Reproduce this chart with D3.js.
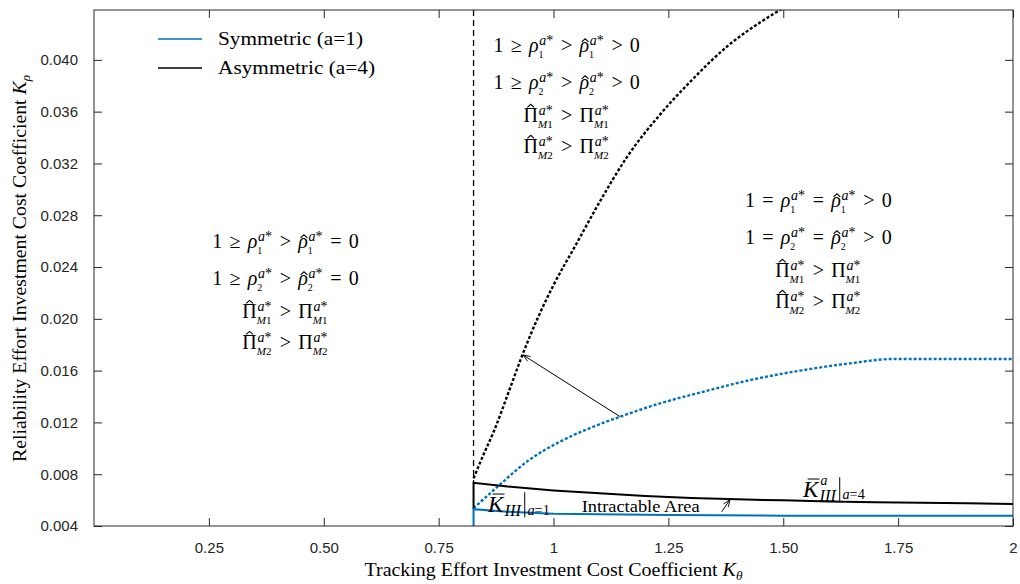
<!DOCTYPE html>
<html>
<head>
<meta charset="utf-8">
<style>
	body { margin: 0; background: white; }
	.tick text { font-family: "Liberation Sans", Arial, sans-serif; font-size: 15px; fill: #262626; }
	.tick line { stroke: #262626; }
	.tex { font-family: "Liberation Serif", "Times New Roman", serif; fill: #000; }
	.box { fill: none; stroke: #262626; stroke-width: 1; }
</style>
</head>
<body>
<svg width="1020" height="584"></svg>

<script src="https://cdnjs.cloudflare.com/ajax/libs/d3/7.8.5/d3.min.js"></script>
<script>
// values
const kThreshold = 0.826;

const xTicks = [0.25, 0.5, 0.75, 1, 1.25, 1.5, 1.75, 2];
const xTickLabels = ["0.25", "0.50", "0.75", "1", "1.25", "1.50", "1.75", "2"];
const yTicks = [0.004, 0.008, 0.012, 0.016, 0.020, 0.024, 0.028, 0.032, 0.036, 0.040];
const yTickLabels = ["0.004", "0.008", "0.012", "0.016", "0.020", "0.024", "0.028", "0.032", "0.036", "0.040"];

// a=4 boundary (black dotted)
const asymBoundK   = [0.826, 0.85, 0.87, 0.905, 0.93, 0.965, 1.0, 1.05, 1.1, 1.16, 1.23, 1.3, 1.38, 1.45, 1.5];
const asymBoundRho = [0.00768, 0.0097, 0.0113, 0.0146, 0.0170, 0.0200, 0.0226, 0.0258, 0.0290, 0.0325, 0.0357, 0.0384, 0.0411, 0.0429, 0.0440];

// a=1 boundary (blue dotted)
const symBoundK   = [0.826, 0.88, 0.942, 1.014, 1.087, 1.145, 1.232, 1.319, 1.428, 1.537, 1.645, 1.74, 1.75, 2.0];
const symBoundRho = [0.00537, 0.00709, 0.00897, 0.01051, 0.01167, 0.01244, 0.01347, 0.0143, 0.01527, 0.0160, 0.01656, 0.0169, 0.0169, 0.0169];

// K_III lower bounds (solid)
const asymFloorK   = [0.826, 0.826, 0.9, 1.0, 1.1, 1.2, 1.3, 1.4, 1.5, 1.6, 1.7, 1.8, 1.9, 2.0];
const asymFloorRho = [0.0053, 0.00734, 0.00705, 0.00675, 0.00652, 0.00632, 0.00617, 0.00606, 0.00598, 0.0059, 0.00583, 0.0058, 0.00575, 0.0057];
const symFloorK   = [0.826, 0.826, 0.9, 1.0, 1.1, 1.25, 1.5, 1.75, 2.0];
const symFloorRho = [0.004, 0.0053, 0.0051, 0.00495, 0.0049, 0.00485, 0.0048, 0.0048, 0.0048];

const legendLabels = ["Symmetric (a=1)", "Asymmetric (a=4)"];
const blue = "#0072BD";

const svg = d3.select("svg");
const x = d3.scaleLinear().domain([0, 2]).range([94, 1013]);
const y = d3.scaleLinear().domain([0.004, 0.04385]).range([526, 10]);

svg.append("defs").append("clipPath").attr("id", "plot")
	.append("rect").attr("x", 94).attr("y", 10).attr("width", 919).attr("height", 516);

svg.select("defs").append("marker")
	.attr("id", "head").attr("viewBox", "0 -5 10 10")
	.attr("refX", 10).attr("refY", 0)
	.attr("markerWidth", 9).attr("markerHeight", 7)
	.attr("markerUnits", "userSpaceOnUse")
	.attr("orient", "auto")
	.append("path").attr("d", "M0,-4L10,0L0,4").attr("fill", "none").attr("stroke", "#000").attr("stroke-width", 1.2);

// axes, ticks inside on all four sides
function styleAxis(g) { g.select(".domain").remove(); }
svg.append("g").attr("transform", "translate(0,526)")
	.call(d3.axisBottom(x).tickValues(xTicks).tickFormat((d, i) => xTickLabels[i]).tickSize(-8).tickPadding(16))
	.call(styleAxis);
svg.append("g").attr("transform", "translate(0,10)")
	.call(d3.axisTop(x).tickValues(xTicks).tickFormat("").tickSize(-8))
	.call(styleAxis);
svg.append("g").attr("transform", "translate(94,0)")
	.call(d3.axisLeft(y).tickValues(yTicks).tickFormat((d, i) => yTickLabels[i]).tickSize(-8).tickPadding(16))
	.call(styleAxis);
svg.append("g").attr("transform", "translate(1013,0)")
	.call(d3.axisRight(y).tickValues(yTicks).tickFormat("").tickSize(-8))
	.call(styleAxis);
svg.selectAll(".tick text").attr("font-family", null).attr("font-size", null);

const plot = svg.append("g").attr("clip-path", "url(#plot)");

const line = d3.line().x(d => x(d[0])).y(d => y(d[1]));
const smooth = d3.line().x(d => x(d[0])).y(d => y(d[1])).curve(d3.curveMonotoneX);

// dashed threshold
plot.append("path")
	.attr("d", line([[kThreshold, 0.04385], [kThreshold, asymFloorRho[1]]]))
	.attr("fill", "none").attr("stroke", "#000").attr("stroke-width", 1.3).attr("stroke-dasharray", "6,4");

plot.append("path")
	.attr("d", smooth(symBoundK.map((k, i) => [k, symBoundRho[i]])))
	.attr("fill", "none").attr("stroke", blue).attr("stroke-width", 2.4).attr("stroke-dasharray", "3,2");

plot.append("path")
	.attr("d", smooth(asymBoundK.map((k, i) => [k, asymBoundRho[i]])))
	.attr("fill", "none").attr("stroke", "#000").attr("stroke-width", 2.4).attr("stroke-dasharray", "3,2");

plot.append("path")
	.attr("d", line(asymFloorK.map((k, i) => [k, asymFloorRho[i]])))
	.attr("fill", "none").attr("stroke", "#000").attr("stroke-width", 2);

plot.append("path")
	.attr("d", line(symFloorK.map((k, i) => [k, symFloorRho[i]])))
	.attr("fill", "none").attr("stroke", blue).attr("stroke-width", 2);

svg.append("rect").attr("class", "box").attr("x", 94).attr("y", 10).attr("width", 919).attr("height", 516);

// arrows
svg.append("path")
	.attr("d", line([[1.145, 0.01244], [0.934, 0.0172]]))
	.attr("stroke", "#000").attr("stroke-width", 1).attr("marker-end", "url(#head)");
svg.append("path")
	.attr("d", line([[1.366, 0.0051], [1.384, 0.00603]]))
	.attr("stroke", "#000").attr("stroke-width", 1).attr("marker-end", "url(#head)");

// small LaTeX-like layout helper
function put(g, str, size, xx, yy, italic) {
	return g.append("text").attr("class", "tex")
		.attr("x", xx).attr("y", yy)
		.style("font-size", size + "px")
		.style("font-style", italic ? "italic" : "normal")
		.text(str);
}
function script(g, str, size, xx, yy) {
	let cx = xx;
	for (const ch of str) {
		const t = put(g, ch, size, cx, yy, /[A-Za-z]/.test(ch));
		cx += t.node().getComputedTextLength();
	}
	return cx - xx;
}
function hat(g, cx, top, w) {
	// circumflex drawn as a small chevron
	g.append("path")
		.attr("d", `M${cx - w / 2},${top + w * 0.45}L${cx},${top}L${cx + w / 2},${top + w * 0.45}`)
		.attr("fill", "none").attr("stroke", "#000").attr("stroke-width", 1.1);
}
function texLine(g, tokens, size) {
	let cx = 0;
	tokens.forEach(tk => {
		if (tk.rel) {
			cx += 0.36 * size;
			const t = put(g, tk.rel, size, cx, 0, false);
			cx += t.node().getComputedTextLength() + 0.36 * size;
		}
		if (tk.s) {
			const sz = size * (tk.k || 1);
			const t = put(g, tk.s, sz, cx, (tk.dy || 0) * size, tk.it);
			const w = t.node().getComputedTextLength();
			if (tk.hat !== undefined) hat(g, cx + w * (tk.it ? 0.6 : 0.5), -tk.hat * size, 0.34 * size);
			if (tk.bar)
				g.append("line").attr("x1", cx + 0.2 * size).attr("x2", cx + w + 0.05 * size)
					.attr("y1", -0.77 * size).attr("y2", -0.77 * size)
					.attr("stroke", "#000").attr("stroke-width", 1);
			cx += w + (tk.ic || 0) * size;
		}
		if (tk.vbar) {
			cx += 0.1 * size;
			g.append("line").attr("x1", cx).attr("x2", cx)
				.attr("y1", -0.85 * size).attr("y2", 0.25 * size)
				.attr("stroke", "#000").attr("stroke-width", 1);
			cx += 0.12 * size;
		}
		if (tk.sup || tk.sub) {
			let ws = 0, wb = 0;
			if (tk.sup) ws = script(g, tk.sup, size * (tk.supK || 0.7), cx + 0.04 * size, -(tk.supDy || 0.38) * size);
			if (tk.sub) wb = script(g, tk.sub, size * (tk.subK || 0.5), cx, (tk.subDy || 0.28) * size);
			cx += Math.max(ws, wb) + 0.06 * size;
		}
	});
	return cx;
}
function texAt(cx, by, tokens, size, anchor) {
	const g = svg.append("g");
	const w = texLine(g, tokens, size);
	const left = anchor === "start" ? cx : cx - w / 2;
	g.attr("transform", `translate(${left},${by})`);
	return g;
}

const rhoLine = (r1, r2, r3, i) => [
	{s: "1"}, {rel: r1}, {s: "ρ", it: true}, {sup: "a*", sub: String(i)},
	{rel: r2}, {s: "ρ", it: true, hat: 0.68}, {sup: "a*", sub: String(i)},
	{rel: r3}, {s: "0"}
];
const piLine = i => [
	{s: "Π", hat: 0.9}, {sup: "a*", sub: "M" + i, subK: 0.55},
	{rel: ">"}, {s: "Π"}, {sup: "a*", sub: "M" + i, subK: 0.55}
];

const blocks = [
	{k: 0.4168, rho: 0.02544, rels: ["≥", ">", "="]},
	{k: 1.0287, rho: 0.04058, rels: ["≥", ">", ">"]},
	{k: 1.5763, rho: 0.02861, rels: ["=", "=", ">"]}
];
const mathSize = 20;
blocks.forEach(b => {
	const cx = x(b.k), by = y(b.rho);
	texAt(cx, by, rhoLine(b.rels[0], b.rels[1], b.rels[2], 1), mathSize);
	texAt(cx, by + 37, rhoLine(b.rels[0], b.rels[1], b.rels[2], 2), mathSize);
	texAt(cx, by + 70, piLine(1), mathSize);
	texAt(cx, by + 101, piLine(2), mathSize);
});

// curve labels
texAt(x(0.8575), y(0.0051), [
	{s: "K", it: true, bar: true, ic: 0.05}, {sub: "III", subK: 0.72, subDy: 0.2},
	{vbar: true}, {sub: "a=1", subK: 0.62, subDy: 0.16}
], 23, "start");
texAt(x(1.543), y(0.00626), [
	{s: "K", it: true, bar: true, ic: 0.05}, {sup: "a", supK: 0.6, supDy: 0.5, sub: "III", subK: 0.72, subDy: 0.2},
	{vbar: true}, {sub: "a=4", subK: 0.62, subDy: 0.1}
], 23, "start");
put(svg, "Intractable Area", 17, x(1.0614), y(0.00506), false)
	.attr("textLength", 118).attr("lengthAdjust", "spacingAndGlyphs");

// legend
const legend = svg.append("g");
[blue, "#000"].forEach((c, i) => {
	legend.append("line").attr("x1", 158).attr("x2", 202).attr("y1", 39 + i * 29).attr("y2", 39 + i * 29)
		.attr("stroke", c).attr("stroke-width", 1.5);
	put(legend, legendLabels[i], 19, 218, 45 + i * 29, false)
		.attr("textLength", i ? 157 : 145).attr("lengthAdjust", "spacingAndGlyphs");
});

// axis titles
const xt = svg.append("text").attr("class", "tex")
	.attr("x", 553.5).attr("y", 576).attr("text-anchor", "middle").style("font-size", "18px")
	.attr("textLength", 378).attr("lengthAdjust", "spacingAndGlyphs");
xt.append("tspan").text("Tracking Effort Investment Cost Coefficient ");
xt.append("tspan").style("font-style", "italic").text("K");
xt.append("tspan").style("font-style", "italic").style("font-size", "12px").attr("dy", 4).text("θ");

const yt = svg.append("text").attr("class", "tex")
	.attr("transform", "translate(26,268.5) rotate(-90)").attr("text-anchor", "middle").style("font-size", "18px")
	.attr("textLength", 387).attr("lengthAdjust", "spacingAndGlyphs");
yt.append("tspan").text("Reliability Effort Investment Cost Coefficient ");
yt.append("tspan").style("font-style", "italic").text("K");
yt.append("tspan").style("font-style", "italic").style("font-size", "12px").attr("dy", 4).text("ρ");
</script>
</body>
</html>
